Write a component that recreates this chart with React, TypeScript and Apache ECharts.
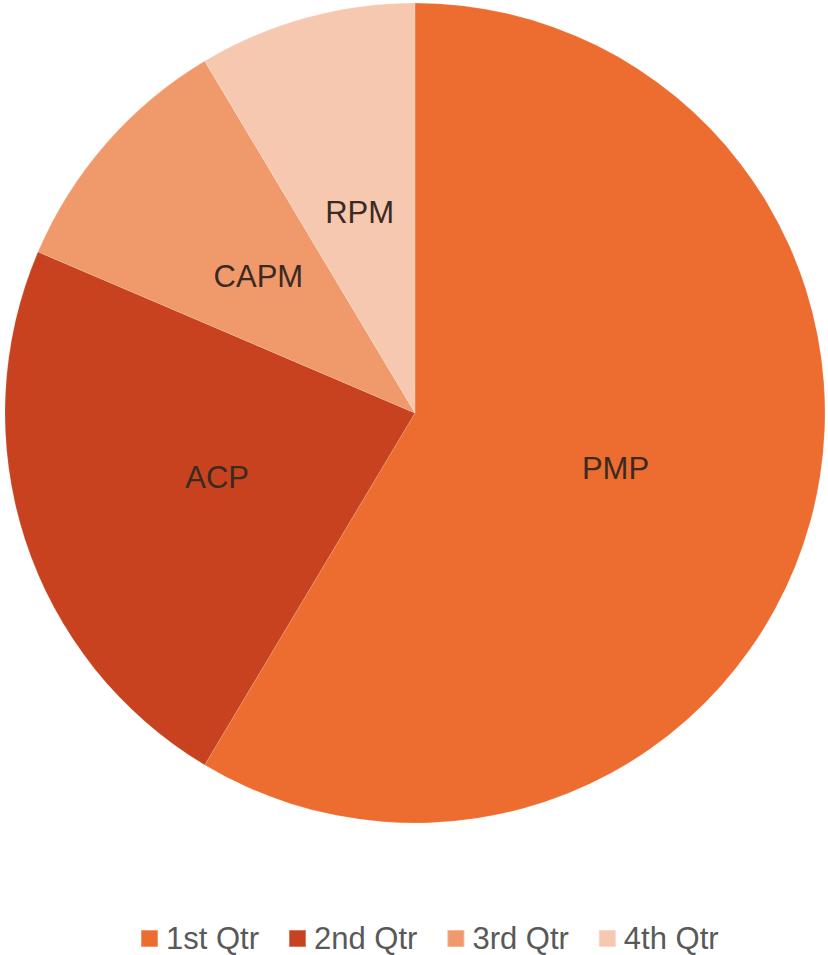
import React, { useEffect, useRef } from "react";
import * as echarts from "echarts";

const categories = ["1st Qtr", "2nd Qtr", "3rd Qtr", "4th Qtr"];
const sliceLabels = ["PMP", "ACP", "CAPM", "RPM"];
const values = [8.2, 3.2, 1.4, 1.2];
const colors = ["#ED6D31", "#C9421F", "#F09A6B", "#F7C8B0"];

export default function App() {
  const ref = useRef<HTMLDivElement>(null);
  useEffect(() => {
    if (!ref.current) return;
    const chart = echarts.init(ref.current, undefined, { renderer: "svg" });
    chart.setOption({
      animation: false,
      backgroundColor: "#ffffff",
      color: colors,
      legend: {
        data: categories,
        left: 140,
        top: 923,
        padding: 0,
        itemWidth: 17,
        itemHeight: 17,
        itemGap: 29,
        icon: "rect",
        textStyle: {
          fontSize: 31,
          color: "#595959",
          fontFamily: "Liberation Sans, Arial, sans-serif",
          padding: [0, 0, 0, 3],
        },
      },
      series: [
        {
          type: "pie",
          center: [415, 413],
          radius: 410,
          startAngle: 90,
          clockwise: true,
          label: {
            show: true,
            position: "inside",
            fontSize: 31,
            color: "#3a2a22",
            fontFamily: "Liberation Sans, Arial, sans-serif",
            formatter: (p: any) => sliceLabels[p.dataIndex],
          },
          labelLine: { show: false },
          emphasis: { disabled: true },
          itemStyle: { borderColor: "rgba(255,255,255,0.3)", borderWidth: 0.5 },
          data: categories.map((c, i) => ({ name: c, value: values[i] })),
        },
      ],
    });
    return () => chart.dispose();
  }, []);
  return (
    <div
      ref={ref}
      style={{ position: "absolute", left: 0, top: 0, width: 828, height: 955 }}
    />
  );
}
